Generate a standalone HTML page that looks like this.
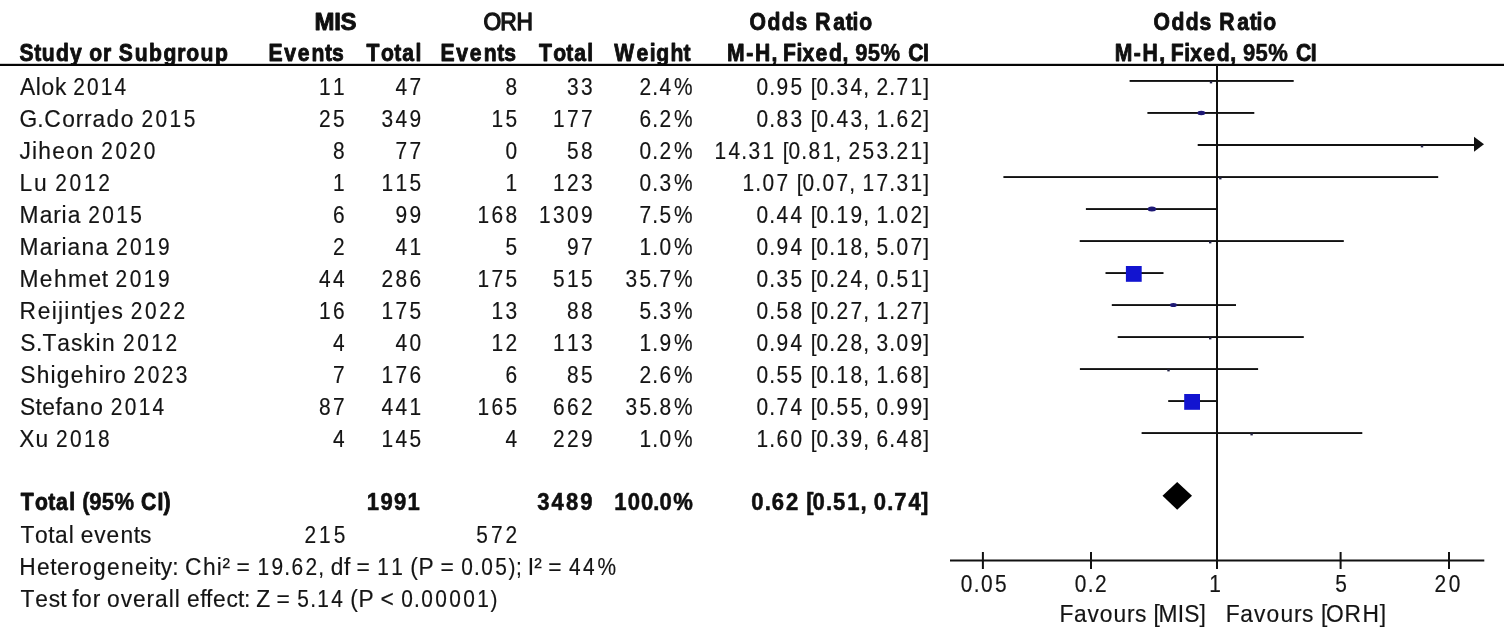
<!DOCTYPE html>
<html><head><meta charset="utf-8"><title>Forest plot</title>
<style>
html,body{margin:0;padding:0;background:#fff;}
svg{display:block}
text{font-family:"Liberation Sans",Arial,sans-serif;font-size:24px;white-space:pre;stroke-linejoin:round}
.r,.rn{fill:#141414;stroke:#141414;stroke-width:0.18}
.b{font-weight:bold;fill:#0f0f0f;stroke:#0f0f0f;stroke-width:0.9}
.bn{font-weight:bold;fill:#0f0f0f;stroke:#0f0f0f;stroke-width:0.55}
.l{fill:#141414;stroke:#141414;stroke-width:1.3}
</style></head><body>
<svg width="1504" height="640" viewBox="0 0 1504 640">
<rect width="1504" height="640" fill="#fff"/>
<text class="b" transform="translate(0 29.7) scale(1 1)" x="314.54 334.23 340.58" y="0">MIS</text>
<text class="l" transform="translate(0 29.7) scale(0.95 1)" x="509.06 526.66 543.59" y="0">ORH</text>
<text class="b" transform="translate(0 29.7) scale(0.88 1)" x="851.85 872.28 888.44 904.11 917.92 926.47 946.89 961.17 968.90 976.51" y="0">Odds Ratio</text>
<text class="b" transform="translate(0 29.7) scale(0.88 1)" x="1310.83 1331.26 1347.41 1363.09 1376.90 1385.45 1405.86 1420.15 1427.87 1435.49" y="0">Odds Ratio</text>
<text class="b" transform="translate(0 61.1) scale(0.88 1)" x="22.03 38.96 47.42 63.75 79.61 93.60 101.39 116.98 126.69 134.95 153.09 169.43 185.76 201.35 211.61 227.95 244.28" y="0">Study or Subgroup</text>
<text class="b" transform="translate(0 61.1) scale(0.88 1)" x="305.21 322.99 338.30 354.09 369.33 377.41" y="0">Events</text>
<text class="b" transform="translate(0 61.1) scale(0.88 1)" x="416.54 432.90 448.03 457.16 472.31" y="0">Total</text>
<text class="b" transform="translate(0 61.1) scale(0.88 1)" x="500.66 518.49 533.84 549.68 564.96 573.10" y="0">Events</text>
<text class="b" transform="translate(0 61.1) scale(0.88 1)" x="612.57 628.69 643.60 652.50 667.42" y="0">Total</text>
<text class="b" transform="translate(0 61.1) scale(0.88 1)" x="698.15 723.44 738.33 745.88 761.97 776.85" y="0">Weight</text>
<g>
<text class="b" transform="translate(0 61.1) scale(0.88 1)" x="826.12 847.88 857.83 876.65" y="0">M-H, </text>
<text class="b" transform="translate(0 61.1) scale(0.88 1)" x="889.87 905.19 912.05 926.78 942.00 957.33" y="0">Fixed, </text>
<text class="bn" transform="translate(0 61.1) scale(0.92 1)" x="929.66 943.24 957.17" y="0">95% </text>
<text class="b" transform="translate(0 61.1) scale(0.88 1)" x="1032.08 1048.92" y="0">CI</text>
</g>
<g>
<text class="b" transform="translate(0 61.1) scale(0.88 1)" x="1266.69 1288.44 1298.40 1317.21" y="0">M-H, </text>
<text class="b" transform="translate(0 61.1) scale(0.88 1)" x="1330.44 1345.76 1352.61 1367.35 1382.57 1397.90" y="0">Fixed, </text>
<text class="bn" transform="translate(0 61.1) scale(0.92 1)" x="1351.07 1364.65 1378.58" y="0">95% </text>
<text class="b" transform="translate(0 61.1) scale(0.88 1)" x="1472.65 1489.49" y="0">CI</text>
</g>
<rect x="0" y="66" width="1504" height="7" fill="#fff"/>
<rect x="0" y="63.8" width="1504" height="2.2" fill="#050505"/>
<g>
<text class="r" transform="translate(0 95.4) scale(0.95 1)" x="20.99 37.60 43.82 57.87 69.70" y="0">Alok </text>
<text class="rn" transform="translate(0 95.4) scale(0.87 1)" x="84.24 100.00 115.76 131.52" y="0">2014</text>
</g>
<text class="rn" transform="translate(0 95.4) scale(0.87 1)" x="366.77 382.87" y="0">11</text>
<text class="rn" transform="translate(0 95.4) scale(0.87 1)" x="454.59 470.68" y="0">47</text>
<text class="rn" transform="translate(0 95.4) scale(0.87 1)" x="580.91" y="0">8</text>
<text class="rn" transform="translate(0 95.4) scale(0.87 1)" x="651.60 667.69" y="0">33</text>
<text class="rn" transform="translate(0 95.4) scale(0.87 1)" x="734.94 749.77 757.92 774.62" y="0">2.4%</text>
<text class="rn" transform="translate(0 95.4) scale(0.87 1)" x="869.42 884.25 892.41 908.50 923.33 931.84 938.38 953.22 961.37 977.46 992.30 999.19 1007.35 1022.18 1030.34 1046.43 1061.26" y="0">0.95 [0.34, 2.71]</text>
<g>
<text class="r" transform="translate(0 127.4) scale(0.95 1)" x="20.46 39.19 46.59 65.52 79.87 88.39 97.38 112.22 127.05 141.01" y="0">G.Corrado </text>
<text class="rn" transform="translate(0 127.4) scale(0.87 1)" x="162.54 178.74 194.94 211.13" y="0">2015</text>
</g>
<text class="rn" transform="translate(0 127.4) scale(0.87 1)" x="366.77 382.87" y="0">25</text>
<text class="rn" transform="translate(0 127.4) scale(0.87 1)" x="438.50 454.59 470.68" y="0">349</text>
<text class="rn" transform="translate(0 127.4) scale(0.87 1)" x="564.82 580.91" y="0">15</text>
<text class="rn" transform="translate(0 127.4) scale(0.87 1)" x="635.51 651.60 667.69" y="0">177</text>
<text class="rn" transform="translate(0 127.4) scale(0.87 1)" x="734.94 749.77 757.92 774.62" y="0">6.2%</text>
<text class="rn" transform="translate(0 127.4) scale(0.87 1)" x="869.42 884.25 892.41 908.50 923.33 931.84 938.38 953.22 961.37 977.46 992.30 999.19 1007.35 1022.18 1030.34 1046.43 1061.26" y="0">0.83 [0.43, 1.62]</text>
<g>
<text class="r" transform="translate(0 159.4) scale(0.95 1)" x="20.66 33.60 40.24 55.10 69.97 84.83 98.82" y="0">Jiheon </text>
<text class="rn" transform="translate(0 159.4) scale(0.87 1)" x="116.51 132.74 148.97 165.20" y="0">2020</text>
</g>
<text class="rn" transform="translate(0 159.4) scale(0.87 1)" x="382.87" y="0">8</text>
<text class="rn" transform="translate(0 159.4) scale(0.87 1)" x="454.59 470.68" y="0">77</text>
<text class="rn" transform="translate(0 159.4) scale(0.87 1)" x="580.91" y="0">0</text>
<text class="rn" transform="translate(0 159.4) scale(0.87 1)" x="651.60 667.69" y="0">58</text>
<text class="rn" transform="translate(0 159.4) scale(0.87 1)" x="734.94 749.77 757.92 774.62" y="0">0.2%</text>
<text class="rn" transform="translate(0 159.4) scale(0.87 1)" x="821.14 837.23 852.07 860.22 876.31 891.15 899.65 906.20 921.03 929.19 945.28 960.11 967.01 975.17 991.26 1007.35 1022.18 1030.34 1046.43 1061.26" y="0">14.31 [0.81, 253.21]</text>
<g>
<text class="r" transform="translate(0 191.4) scale(0.95 1)" x="20.54 35.67 49.92" y="0">Lu </text>
<text class="rn" transform="translate(0 191.4) scale(0.87 1)" x="63.40 79.91 96.43 112.94" y="0">2012</text>
</g>
<text class="rn" transform="translate(0 191.4) scale(0.87 1)" x="382.87" y="0">1</text>
<text class="rn" transform="translate(0 191.4) scale(0.87 1)" x="438.50 454.59 470.68" y="0">115</text>
<text class="rn" transform="translate(0 191.4) scale(0.87 1)" x="580.91" y="0">1</text>
<text class="rn" transform="translate(0 191.4) scale(0.87 1)" x="635.51 651.60 667.69" y="0">123</text>
<text class="rn" transform="translate(0 191.4) scale(0.87 1)" x="734.94 749.77 757.92 774.62" y="0">0.3%</text>
<text class="rn" transform="translate(0 191.4) scale(0.87 1)" x="853.33 868.16 876.31 892.41 907.24 915.75 922.29 937.13 945.28 961.37 976.21 983.10 991.26 1007.35 1022.18 1030.34 1046.43 1061.26" y="0">1.07 [0.07, 17.31]</text>
<g>
<text class="r" transform="translate(0 223.4) scale(0.95 1)" x="20.54 41.76 56.01 64.71 71.22 85.09" y="0">Maria </text>
<text class="rn" transform="translate(0 223.4) scale(0.87 1)" x="101.37 117.46 133.55 149.64" y="0">2015</text>
</g>
<text class="rn" transform="translate(0 223.4) scale(0.87 1)" x="382.87" y="0">6</text>
<text class="rn" transform="translate(0 223.4) scale(0.87 1)" x="454.59 470.68" y="0">99</text>
<text class="rn" transform="translate(0 223.4) scale(0.87 1)" x="548.73 564.82 580.91" y="0">168</text>
<text class="rn" transform="translate(0 223.4) scale(0.87 1)" x="619.42 635.51 651.60 667.69" y="0">1309</text>
<text class="rn" transform="translate(0 223.4) scale(0.87 1)" x="734.94 749.77 757.92 774.62" y="0">7.5%</text>
<text class="rn" transform="translate(0 223.4) scale(0.87 1)" x="869.42 884.25 892.41 908.50 923.33 931.84 938.38 953.22 961.37 977.46 992.30 999.19 1007.35 1022.18 1030.34 1046.43 1061.26" y="0">0.44 [0.19, 1.02]</text>
<g>
<text class="r" transform="translate(0 255.4) scale(0.95 1)" x="20.54 41.74 55.98 64.66 71.15 85.87 100.59 114.43" y="0">Mariana </text>
<text class="rn" transform="translate(0 255.4) scale(0.87 1)" x="133.40 149.47 165.54 181.61" y="0">2019</text>
</g>
<text class="rn" transform="translate(0 255.4) scale(0.87 1)" x="382.87" y="0">2</text>
<text class="rn" transform="translate(0 255.4) scale(0.87 1)" x="454.59 470.68" y="0">41</text>
<text class="rn" transform="translate(0 255.4) scale(0.87 1)" x="580.91" y="0">5</text>
<text class="rn" transform="translate(0 255.4) scale(0.87 1)" x="651.60 667.69" y="0">97</text>
<text class="rn" transform="translate(0 255.4) scale(0.87 1)" x="734.94 749.77 757.92 774.62" y="0">1.0%</text>
<text class="rn" transform="translate(0 255.4) scale(0.87 1)" x="869.42 884.25 892.41 908.50 923.33 931.84 938.38 953.22 961.37 977.46 992.30 999.19 1007.35 1022.18 1030.34 1046.43 1061.26" y="0">0.94 [0.18, 5.07]</text>
<g>
<text class="r" transform="translate(0 287.4) scale(0.95 1)" x="20.54 41.95 56.87 71.63 93.04 107.10 113.60" y="0">Mehmet </text>
<text class="rn" transform="translate(0 287.4) scale(0.87 1)" x="132.71 149.01 165.31 181.61" y="0">2019</text>
</g>
<text class="rn" transform="translate(0 287.4) scale(0.87 1)" x="366.77 382.87" y="0">44</text>
<text class="rn" transform="translate(0 287.4) scale(0.87 1)" x="438.50 454.59 470.68" y="0">286</text>
<text class="rn" transform="translate(0 287.4) scale(0.87 1)" x="548.73 564.82 580.91" y="0">175</text>
<text class="rn" transform="translate(0 287.4) scale(0.87 1)" x="635.51 651.60 667.69" y="0">515</text>
<text class="rn" transform="translate(0 287.4) scale(0.87 1)" x="718.84 734.94 749.77 757.92 774.62" y="0">35.7%</text>
<text class="rn" transform="translate(0 287.4) scale(0.87 1)" x="869.42 884.25 892.41 908.50 923.33 931.84 938.38 953.22 961.37 977.46 992.30 999.19 1007.35 1022.18 1030.34 1046.43 1061.26" y="0">0.35 [0.24, 0.51]</text>
<g>
<text class="r" transform="translate(0 319.4) scale(0.95 1)" x="20.54 39.65 54.45 61.04 67.63 74.42 88.56 95.81 102.61 117.24 129.65" y="0">Reijintjes </text>
<text class="rn" transform="translate(0 319.4) scale(0.87 1)" x="150.33 166.72 183.10 199.49" y="0">2022</text>
</g>
<text class="rn" transform="translate(0 319.4) scale(0.87 1)" x="366.77 382.87" y="0">16</text>
<text class="rn" transform="translate(0 319.4) scale(0.87 1)" x="438.50 454.59 470.68" y="0">175</text>
<text class="rn" transform="translate(0 319.4) scale(0.87 1)" x="564.82 580.91" y="0">13</text>
<text class="rn" transform="translate(0 319.4) scale(0.87 1)" x="651.60 667.69" y="0">88</text>
<text class="rn" transform="translate(0 319.4) scale(0.87 1)" x="734.94 749.77 757.92 774.62" y="0">5.3%</text>
<text class="rn" transform="translate(0 319.4) scale(0.87 1)" x="869.42 884.25 892.41 908.50 923.33 931.84 938.38 953.22 961.37 977.46 992.30 999.19 1007.35 1022.18 1030.34 1046.43 1061.26" y="0">0.58 [0.27, 1.27]</text>
<g>
<text class="r" transform="translate(0 351.4) scale(0.95 1)" x="21.42 37.88 44.62 60.23 74.80 87.64 100.66 107.39 121.47" y="0">S.Taskin </text>
<text class="rn" transform="translate(0 351.4) scale(0.87 1)" x="141.33 157.65 173.98 190.30" y="0">2012</text>
</g>
<text class="rn" transform="translate(0 351.4) scale(0.87 1)" x="382.87" y="0">4</text>
<text class="rn" transform="translate(0 351.4) scale(0.87 1)" x="454.59 470.68" y="0">40</text>
<text class="rn" transform="translate(0 351.4) scale(0.87 1)" x="564.82 580.91" y="0">12</text>
<text class="rn" transform="translate(0 351.4) scale(0.87 1)" x="635.51 651.60 667.69" y="0">113</text>
<text class="rn" transform="translate(0 351.4) scale(0.87 1)" x="734.94 749.77 757.92 774.62" y="0">1.9%</text>
<text class="rn" transform="translate(0 351.4) scale(0.87 1)" x="869.42 884.25 892.41 908.50 923.33 931.84 938.38 953.22 961.37 977.46 992.30 999.19 1007.35 1022.18 1030.34 1046.43 1061.26" y="0">0.94 [0.28, 3.09]</text>
<g>
<text class="r" transform="translate(0 383.4) scale(0.95 1)" x="21.42 38.59 53.17 59.73 74.52 89.30 103.88 109.97 118.92 132.83" y="0">Shigehiro </text>
<text class="rn" transform="translate(0 383.4) scale(0.87 1)" x="153.56 169.70 185.84 201.98" y="0">2023</text>
</g>
<text class="rn" transform="translate(0 383.4) scale(0.87 1)" x="382.87" y="0">7</text>
<text class="rn" transform="translate(0 383.4) scale(0.87 1)" x="438.50 454.59 470.68" y="0">176</text>
<text class="rn" transform="translate(0 383.4) scale(0.87 1)" x="580.91" y="0">6</text>
<text class="rn" transform="translate(0 383.4) scale(0.87 1)" x="651.60 667.69" y="0">85</text>
<text class="rn" transform="translate(0 383.4) scale(0.87 1)" x="734.94 749.77 757.92 774.62" y="0">2.6%</text>
<text class="rn" transform="translate(0 383.4) scale(0.87 1)" x="869.42 884.25 892.41 908.50 923.33 931.84 938.38 953.22 961.37 977.46 992.30 999.19 1007.35 1022.18 1030.34 1046.43 1061.26" y="0">0.55 [0.18, 1.68]</text>
<g>
<text class="r" transform="translate(0 415.4) scale(0.95 1)" x="21.11 37.33 44.50 58.34 65.51 80.22 94.94 108.78" y="0">Stefano </text>
<text class="rn" transform="translate(0 415.4) scale(0.87 1)" x="127.22 143.29 159.36 175.43" y="0">2014</text>
</g>
<text class="rn" transform="translate(0 415.4) scale(0.87 1)" x="366.77 382.87" y="0">87</text>
<text class="rn" transform="translate(0 415.4) scale(0.87 1)" x="438.50 454.59 470.68" y="0">441</text>
<text class="rn" transform="translate(0 415.4) scale(0.87 1)" x="548.73 564.82 580.91" y="0">165</text>
<text class="rn" transform="translate(0 415.4) scale(0.87 1)" x="635.51 651.60 667.69" y="0">662</text>
<text class="rn" transform="translate(0 415.4) scale(0.87 1)" x="718.84 734.94 749.77 757.92 774.62" y="0">35.8%</text>
<text class="rn" transform="translate(0 415.4) scale(0.87 1)" x="869.42 884.25 892.41 908.50 923.33 931.84 938.38 953.22 961.37 977.46 992.30 999.19 1007.35 1022.18 1030.34 1046.43 1061.26" y="0">0.74 [0.55, 0.99]</text>
<g>
<text class="r" transform="translate(0 447.4) scale(0.95 1)" x="20.18 37.33 51.22" y="0">Xu </text>
<text class="rn" transform="translate(0 447.4) scale(0.87 1)" x="64.42 80.54 96.66 112.78" y="0">2018</text>
</g>
<text class="rn" transform="translate(0 447.4) scale(0.87 1)" x="382.87" y="0">4</text>
<text class="rn" transform="translate(0 447.4) scale(0.87 1)" x="438.50 454.59 470.68" y="0">145</text>
<text class="rn" transform="translate(0 447.4) scale(0.87 1)" x="580.91" y="0">4</text>
<text class="rn" transform="translate(0 447.4) scale(0.87 1)" x="635.51 651.60 667.69" y="0">229</text>
<text class="rn" transform="translate(0 447.4) scale(0.87 1)" x="734.94 749.77 757.92 774.62" y="0">1.0%</text>
<text class="rn" transform="translate(0 447.4) scale(0.87 1)" x="869.42 884.25 892.41 908.50 923.33 931.84 938.38 953.22 961.37 977.46 992.30 999.19 1007.35 1022.18 1030.34 1046.43 1061.26" y="0">1.60 [0.39, 6.48]</text>
<g>
<text class="b" transform="translate(0 509.6) scale(0.88 1)" x="23.70 39.86 54.80 63.73 78.67" y="0">Total </text>
<text class="bn" transform="translate(0 509.6) scale(0.92 1)" x="89.51 97.12 110.67 124.56" y="0">(95% </text>
<text class="b" transform="translate(0 509.6) scale(0.88 1)" x="160.37 178.94 185.82" y="0">CI)</text>
</g>
<text class="bn" transform="translate(0 509.6) scale(0.92 1)" x="398.76 413.52 428.27 443.02" y="0">1991</text>
<text class="bn" transform="translate(0 509.6) scale(0.92 1)" x="583.96 599.56 615.15 630.75" y="0">3489</text>
<text class="bn" transform="translate(0 509.6) scale(0.92 1)" x="667.79 682.24 696.70 710.15 716.92 731.74" y="0">100.0%</text>
<text class="bn" transform="translate(0 509.6) scale(0.92 1)" x="816.72 831.15 838.90 854.34 868.78 876.38 883.28 897.71 905.46 920.90 935.34 942.08 949.83 964.27 972.02 987.46 1001.23" y="0">0.62 [0.51, 0.74]</text>
<text class="r" transform="translate(0 543.4) scale(0.95 1)" x="21.66 36.97 50.76 57.87 72.33 77.90 85.01 99.29 112.23 126.89 140.68 147.41" y="0">Total events</text>
<text class="rn" transform="translate(0 543.4) scale(0.87 1)" x="350.03 366.79 383.55" y="0">215</text>
<text class="rn" transform="translate(0 543.4) scale(0.87 1)" x="547.40 564.25 581.10" y="0">572</text>
<g>
<text class="r" transform="translate(0 575.4) scale(0.95 1)" x="20.23 39.05 52.91 60.08 74.33 83.22 97.94 112.67 127.40 142.12 156.65 162.28 169.08 181.21 187.52 194.80 213.63 228.15 234.18 242.20 249.04 263.23" y="0">Heterogeneity: Chi² = </text>
<text class="rn" transform="translate(0 575.4) scale(0.87 1)" x="295.88 311.97 326.79 334.93 351.01 365.83 372.72" y="0">19.62, </text>
<text class="r" transform="translate(0 575.4) scale(0.95 1)" x="348.23 362.08 368.39 375.23 389.42" y="0">df = </text>
<text class="rn" transform="translate(0 575.4) scale(0.87 1)" x="433.68 449.76 464.58" y="0">11 </text>
<text class="r" transform="translate(0 575.4) scale(0.95 1)" x="431.87 440.49 456.72 463.57 477.75" y="0">(P = </text>
<text class="rn" transform="translate(0 575.4) scale(0.87 1)" x="530.14 544.96 553.10 569.18 584.49 593.19 600.07" y="0">0.05); </text>
<text class="r" transform="translate(0 575.4) scale(0.95 1)" x="555.56 562.26 570.28 577.12 591.31" y="0">I² = </text>
<text class="rn" transform="translate(0 575.4) scale(0.87 1)" x="654.13 670.21 686.90" y="0">44%</text>
</g>
<g>
<text class="r" transform="translate(0 607.4) scale(0.95 1)" x="21.66 37.04 51.38 63.51 69.81 76.11 83.28 97.53 105.54 112.72 127.06 140.06 154.30 163.19 177.71 184.01 189.64 196.82 210.67 216.97 224.14 238.49 250.61 256.92 263.22 269.74 284.24 291.08 305.27" y="0">Test for overall effect: Z = </text>
<text class="rn" transform="translate(0 607.4) scale(0.87 1)" x="341.79 356.61 364.75 380.82 395.64" y="0">5.14 </text>
<text class="r" transform="translate(0 607.4) scale(0.95 1)" x="368.74 377.35 393.58 400.42 414.61" y="0">(P &lt; </text>
<text class="rn" transform="translate(0 607.4) scale(0.87 1)" x="461.18 476.00 484.14 500.21 516.29 532.37 548.44 563.75" y="0">0.00001)</text>
</g>
<rect x="1216.0" y="65" width="2" height="504" fill="#111"/>
<rect x="950" y="559.5" width="534.3" height="2" fill="#111"/>
<rect x="981.9" y="552" width="2" height="17" fill="#111"/>
<rect x="1090.0" y="552" width="2" height="17" fill="#111"/>
<rect x="1339.6" y="552" width="2" height="17" fill="#111"/>
<rect x="1448.0" y="552" width="2" height="17" fill="#111"/>
<text class="rn" transform="translate(0 591.5) scale(0.87 1)" x="1104.32 1119.24 1127.48 1143.66" y="0">0.05</text>
<text class="rn" transform="translate(0 591.5) scale(0.87 1)" x="1235.47 1250.36 1258.57" y="0">0.2</text>
<text class="rn" transform="translate(0 591.5) scale(0.87 1)" x="1389.89" y="0">1</text>
<text class="rn" transform="translate(0 591.5) scale(0.87 1)" x="1534.90" y="0">5</text>
<text class="rn" transform="translate(0 591.5) scale(0.87 1)" x="1648.77 1665.32" y="0">20</text>
<text class="r" transform="translate(0 621.5) scale(0.95 1)" x="1115.28 1130.51 1144.71 1157.57 1172.14 1186.24 1194.61 1206.59 1214.22 1219.61 1239.80 1246.55 1262.64" y="0">Favours [MIS]</text>
<text class="r" transform="translate(0 621.5) scale(0.95 1)" x="1290.23 1305.64 1320.01 1333.04 1347.79 1362.07 1370.61 1382.76 1390.57 1395.74 1415.38 1434.34 1452.32" y="0">Favours [ORH]</text>
<rect x="1129.6" y="80.0" width="164.1" height="1.9" fill="#111"/>
<rect x="1209.8" y="81.2" width="2.4" height="2.2" fill="#222244"/>
<rect x="1147.4" y="112.0" width="106.9" height="1.9" fill="#111"/>
<ellipse cx="1201.3" cy="113.0" rx="3.9" ry="2.2" fill="#1d1874"/>
<rect x="1197.7" y="144.0" width="278.3" height="2" fill="#111"/>
<polygon points="1484,144.2 1474,136.7 1474,151.7" fill="#111"/>
<rect x="1420.8" y="145.2" width="2.4" height="2.2" fill="#222244"/>
<rect x="1003.4" y="176.1" width="434.8" height="1.9" fill="#111"/>
<rect x="1219.1" y="177.2" width="2.4" height="2.2" fill="#222244"/>
<rect x="1085.9" y="208.1" width="131.9" height="1.9" fill="#111"/>
<ellipse cx="1151.9" cy="209.0" rx="4.3" ry="2.5" fill="#1d1874"/>
<rect x="1079.7" y="240.1" width="264.1" height="1.9" fill="#111"/>
<rect x="1209.0" y="241.2" width="2.4" height="2.2" fill="#222244"/>
<rect x="1105.5" y="272.1" width="58.0" height="1.9" fill="#111"/>
<rect x="1125.9" y="266.0" width="15.8" height="15.8" fill="#1214d0"/>
<rect x="1111.8" y="304.1" width="124.2" height="1.9" fill="#111"/>
<ellipse cx="1173.4" cy="305.0" rx="3.6" ry="2.1" fill="#1d1874"/>
<rect x="1117.7" y="336.1" width="186.1" height="1.9" fill="#111"/>
<rect x="1209.0" y="337.2" width="2.4" height="2.2" fill="#222244"/>
<rect x="1079.9" y="368.1" width="178.2" height="1.9" fill="#111"/>
<rect x="1167.3" y="369.2" width="2.4" height="2.2" fill="#222244"/>
<rect x="1168.2" y="400.1" width="49.6" height="1.9" fill="#111"/>
<rect x="1184.2" y="394.0" width="15.8" height="15.8" fill="#1214d0"/>
<rect x="1141.6" y="432.1" width="220.7" height="1.9" fill="#111"/>
<rect x="1250.4" y="433.2" width="2.4" height="2.2" fill="#222244"/>
<polygon points="1162.5,495.8 1177.2,481.9 1192,495.8 1177.2,509.8" fill="#000"/>
</svg></body></html>
